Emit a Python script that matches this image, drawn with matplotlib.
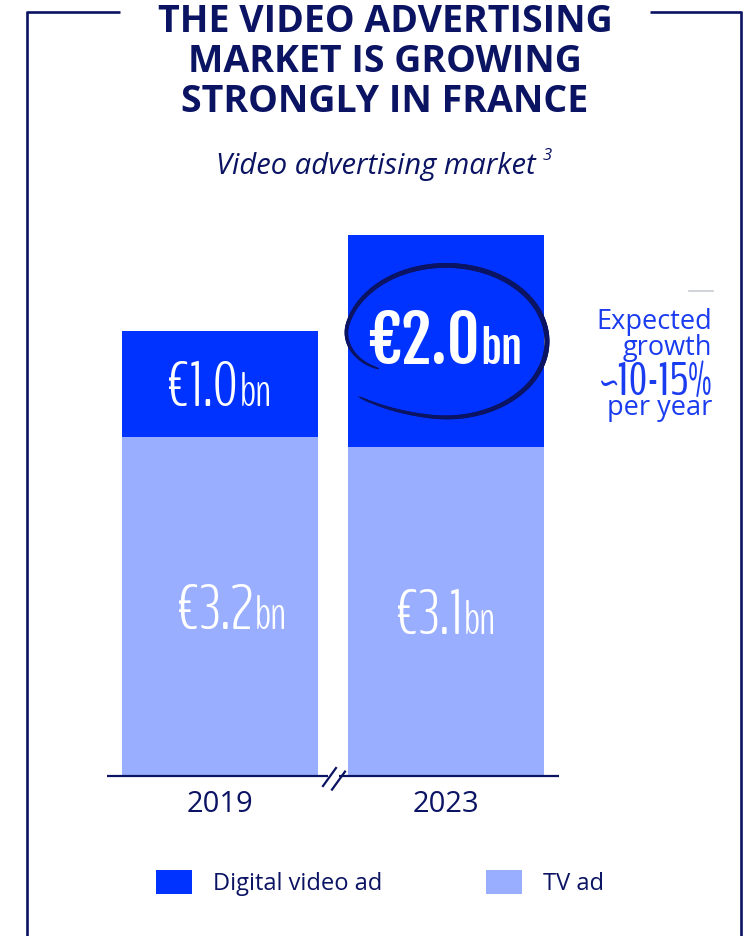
import os
import numpy as np
import matplotlib
matplotlib.use('Agg')
import matplotlib.pyplot as plt
from matplotlib import font_manager
from matplotlib.collections import LineCollection


years = ['2019', '2023']
tv_ad = [3.2, 3.1]
digital_ad = [1.0, 2.0]
series_names = ['Digital video ad', 'TV ad']
title_lines = ['THE VIDEO ADVERTISING', 'MARKET IS GROWING', 'STRONGLY IN FRANCE']
subtitle = 'Video advertising market'
growth_lines = ['Expected', 'growth', '~10-15%', 'per year']

NAVY = '#0b1363'
DIGITAL = '#0033ff'
TV = '#99aeff'
GROWTH = '#1a3cf0'

plt.rcParams['font.family'] = ['Open Sans', 'DejaVu Sans']

# narrow faces for the figures
files = [f.fname for f in font_manager.fontManager.ttflist]
names = [os.path.basename(f).lower() for f in files]


def find_face(keys):
    for key in keys:
        for f, n in zip(files, names):
            if n.startswith(key):
                return font_manager.FontProperties(fname=f)
    return font_manager.FontProperties(family='DejaVu Sans', stretch='condensed')


thin = find_face(['benchnine-light', 'pathwaygothicone-regular', 'robotocondensed-light'])
medium = find_face(['benchnine-regular', 'pathwaygothicone-regular', 'robotocondensed-regular'])
heavy = find_face(['fjallaone-regular', 'oswald[wght]', 'robotocondensed-bold'])

W, H = 746, 936
fig = plt.figure(figsize=(W / 100, H / 100), dpi=100)

# bar axes: 106 px per billion, baseline at y=776 px from top
PX_PER_BN = 106
base_y = 776
ymax = 5.5
ax = fig.add_axes([107 / W, (H - base_y) / H, 452 / W, ymax * PX_PER_BN / H])
x = np.arange(len(years))
bw = 196 / 226
tv_bars = ax.bar(x, tv_ad, width=bw, color=TV, label='TV ad')
dig_bars = ax.bar(x, digital_ad, bottom=tv_ad, width=bw, color=DIGITAL,
                  label='Digital video ad')
ax.set_xlim(-0.5, 1.5)
ax.set_ylim(0, ymax)
for s in ax.spines.values():
    s.set_visible(False)
ax.set_yticks([])
ax.set_xticks(x)
ax.set_xticklabels(years, fontsize=21, color=NAVY)
ax.tick_params(axis='x', length=0, pad=10)
ax.patch.set_alpha(0)

renderer = fig.canvas.get_renderer()


def text_width(s, fp):
    t = fig.text(0, 0, s, fontproperties=fp)
    w = t.get_window_extent(renderer).width
    t.remove()
    return w


def value_label(xc, ymid, value, size, face, bn_ratio, shift=0):
    main = f'€{value:.1f}'
    fp_main = face.copy()
    fp_main.set_size(size)
    fp_bn = face.copy()
    fp_bn.set_size(size * bn_ratio)
    wm = text_width(main, fp_main)
    wb = text_width('bn', fp_bn)
    gap = 1
    total = wm + gap + wb
    right_main = -total / 2 + wm + shift
    cap = 0.70 * size * 100 / 72
    yb = ymid - cap / 2 / PX_PER_BN
    ax.annotate(main, xy=(xc, yb), xytext=(right_main, 0), textcoords='offset pixels',
                ha='right', va='baseline', color='white', fontproperties=fp_main)
    ax.annotate('bn', xy=(xc, yb), xytext=(right_main + gap, 0), textcoords='offset pixels',
                ha='left', va='baseline', color='white', fontproperties=fp_bn)


value_label(x[0], tv_ad[0] / 2, tv_ad[0], 46, thin, 0.74, shift=12)
value_label(x[1], tv_ad[1] / 2, tv_ad[1], 46, thin, 0.74)
value_label(x[0], tv_ad[0] + digital_ad[0] / 2, digital_ad[0], 46, thin, 0.74)
value_label(x[1], tv_ad[1] + digital_ad[1] / 2, digital_ad[1], 46, heavy, 0.68)

# overlay in pixel coordinates (y down) for frame and decorations
ov = fig.add_axes([0, 0, 1, 1])
ov.set_xlim(0, W)
ov.set_ylim(H, 0)
ov.axis('off')

frame_kw = dict(color=NAVY, lw=1.9, solid_capstyle='butt')
ov.plot([27, 120], [12, 12], **frame_kw)
ov.plot([650, 741], [12, 12], **frame_kw)
ov.plot([27, 27], [11, H], **frame_kw)
ov.plot([741, 741], [11, H], **frame_kw)

for i, line in enumerate(title_lines):
    ov.text(385, 32 + 40 * i, line, ha='center', va='baseline', fontsize=27,
            weight='bold', color=NAVY)
ov.text(376, 174, subtitle, ha='center', va='baseline', fontsize=21,
        style='italic', color=NAVY)
ov.text(543, 160, '3', ha='left', va='baseline', fontsize=12, style='italic', color=NAVY)

# axis line with break marks between the two years
axis_kw = dict(color=NAVY, lw=1.6, solid_capstyle='butt')
ov.plot([107, 328], [776, 776], **axis_kw)
ov.plot([339, 559], [776, 776], **axis_kw)
for dx in (0, 9):
    ov.plot([323 + dx, 336 + dx], [786 + dx * 0.4, 768 + dx * 0.4], color=NAVY, lw=1.6)

# hand-drawn loop around the 2023 digital value
cx, cy = ax.transData.transform((x[1], tv_ad[1] + digital_ad[1] / 2))
cy = H - cy
rx, ry = 101, 76
t = np.radians(np.linspace(140, -208, 300))
s = np.linspace(0, 1, 300)
r = np.ones_like(s)
r += np.where(s < 0.12, 0.13 * (1 - s / 0.12) ** 2, 0)
r -= np.where(s > 0.88, 0.24 * ((s - 0.88) / 0.12) ** 2, 0)
px = cx + rx * r * np.cos(t)
py = cy + ry * r * np.sin(t)
pts = np.column_stack([px, py]).reshape(-1, 1, 2)
segs = np.concatenate([pts[:-1], pts[1:]], axis=1)
widths = 0.6 + 3.0 * np.sin(np.pi * s[:-1]) ** 0.35
ov.add_collection(LineCollection(segs, linewidths=widths, colors=NAVY, capstyle='round'))

# growth note on the right
fp_growth = medium.copy()
fp_growth.set_size(33)
ov.plot([689, 713], [291, 291], color='#c9ccd6', lw=1.2)
ov.text(712, 329, growth_lines[0], ha='right', va='baseline', fontsize=19.5, color=GROWTH)
ov.text(712, 355, growth_lines[1], ha='right', va='baseline', fontsize=19.5, color=GROWTH)
ov.text(712, 395, growth_lines[2], ha='right', va='baseline', fontproperties=fp_growth,
        color=GROWTH)
ov.text(712, 415, growth_lines[3], ha='right', va='baseline', fontsize=19.5, color=GROWTH)

fig.legend(handles=[dig_bars, tv_bars], labels=series_names, ncol=2, loc='center',
           bbox_to_anchor=(380 / W, 1 - 883 / H), frameon=False, fontsize=17,
           handlelength=1.53, handleheight=1.19, handletextpad=0.89,
           columnspacing=4.4, labelcolor=NAVY, borderaxespad=0)

fig.savefig('out.png', dpi=100)
